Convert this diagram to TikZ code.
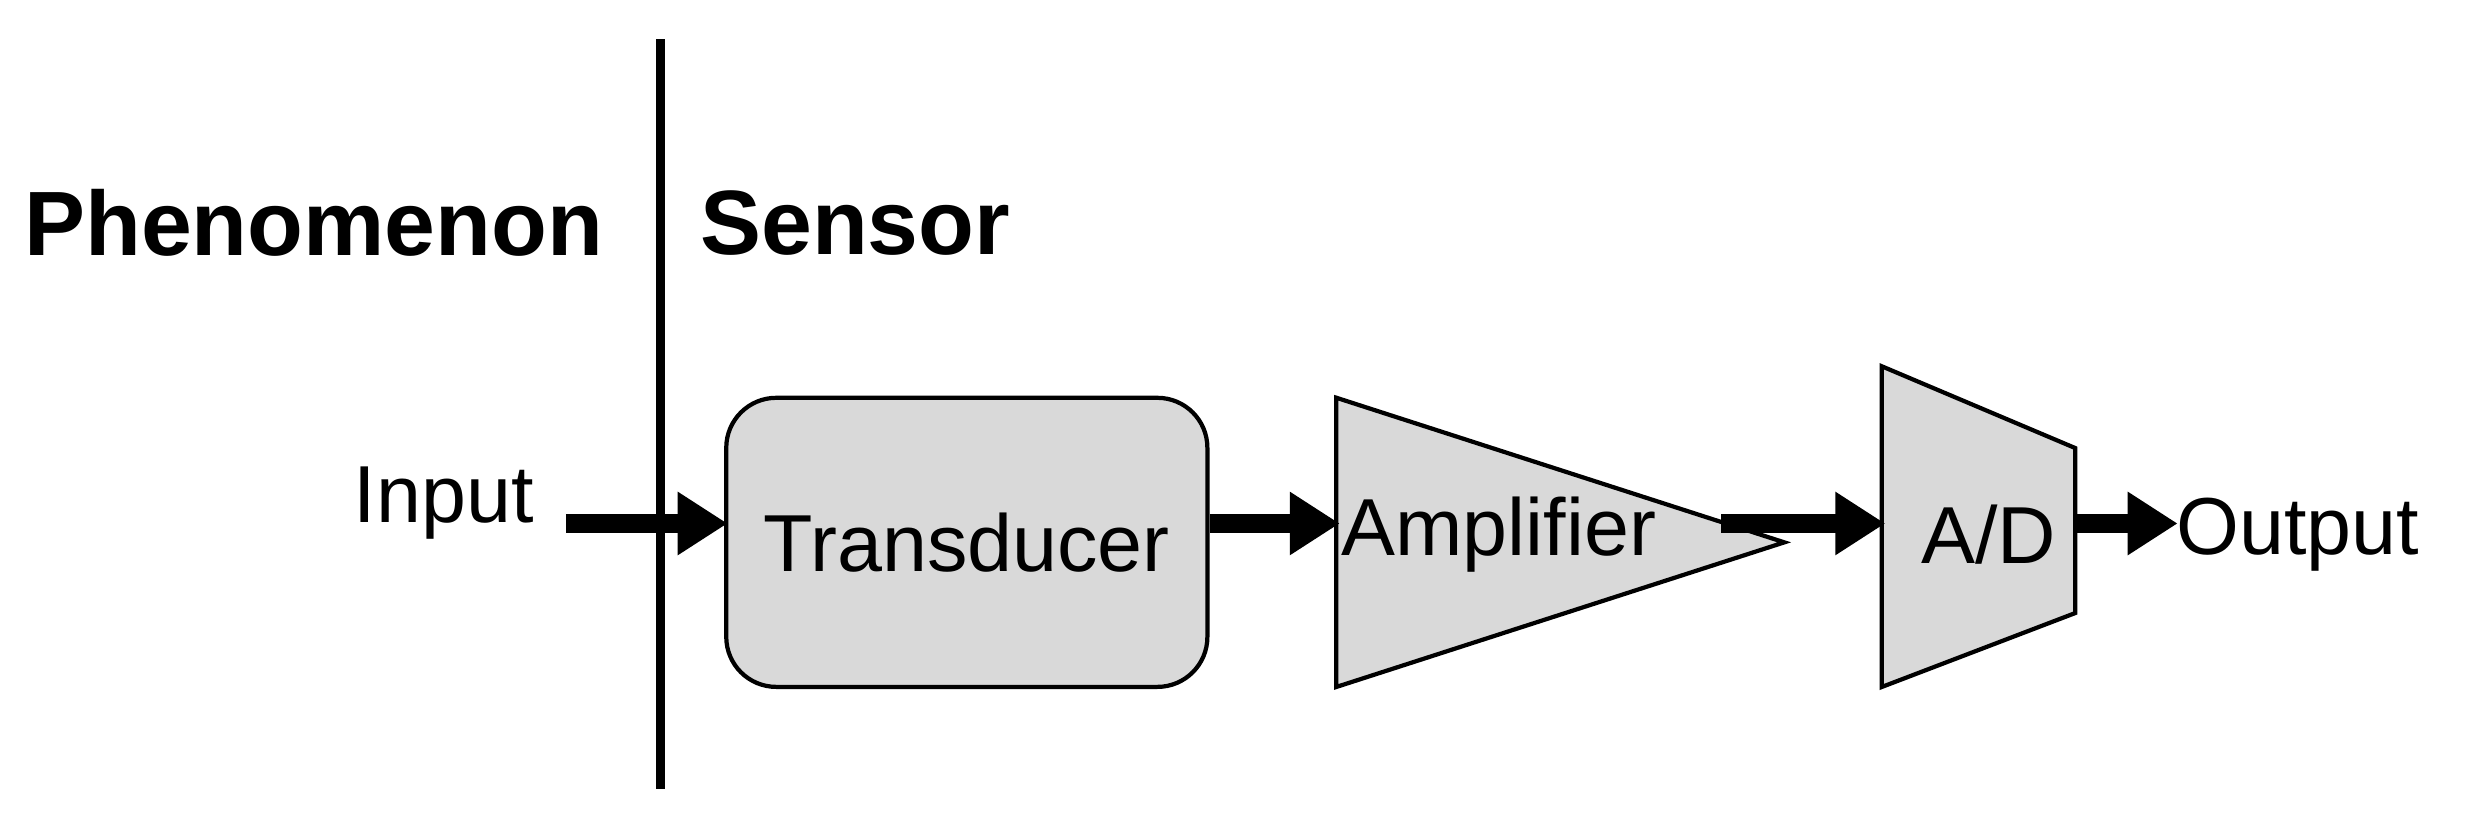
\documentclass[tikz,border=0pt]{standalone}
\usepackage{fontspec}
\setmainfont{Liberation Sans}
\usetikzlibrary{arrows.meta,positioning}
\tikzset{
  blockfill/.style={fill=black!15, draw=black, line width=1.2pt},
  sig/.style={line width=5.5pt, -{Triangle[length=0.5cm,width=0.6cm]}, shorten >=-1pt},
  head/.style={font=\fontsize{26}{30}\selectfont\bfseries, inner sep=0pt},
  lab/.style={font=\fontsize{23}{27}\selectfont, inner sep=0pt}
}
\begin{document}
\begin{tikzpicture}[x=0.01572cm,y=-0.01572cm]
  \useasboundingbox (0,0) rectangle (1568,521.6);
  % divider
  \draw[line width=2.5pt] (420,25) -- (420,502);
  \node[head, anchor=west] (phen) at (15,142) {Phenomenon};
  \node[head, anchor=west] (sens) at (445,142) {Sensor};
  % blocks
  \node[blockfill, rounded corners=0.5cm, minimum width=4.81cm, minimum height=2.89cm, lab] (trans) at (615,345) {Transducer};
  \draw[blockfill] (850,253) -- (1135,345) -- (850,437) -- cycle;
  \node[lab, anchor=west] (amp) at (853,340) {Amplifier};
  \draw[blockfill] (1197,233) -- (1320,285) -- (1320,390) -- (1197,437) -- cycle;
  \node[lab] (ad) at (1265,340) {A/D};
  \node[lab, anchor=east] (in) at (340,320) {Input};
  \node[lab, anchor=west] (out) at (1384,340) {Output};
  % signal points
  \coordinate (inS) at (360,333);
  \coordinate (ampL) at (850,333);
  \coordinate (ampR) at (1095,333);
  \coordinate (adL) at (1197,333);
  \coordinate (adR) at (1320,333);
  \coordinate (outL) at (1383,333);
  \draw[sig] (inS) -- (trans.west |- inS);
  \draw[sig] (trans.east |- inS) -- (ampL);
  \draw[sig] (ampR) -- (adL);
  \draw[sig] (adR) -- (outL);
\end{tikzpicture}
\end{document}
